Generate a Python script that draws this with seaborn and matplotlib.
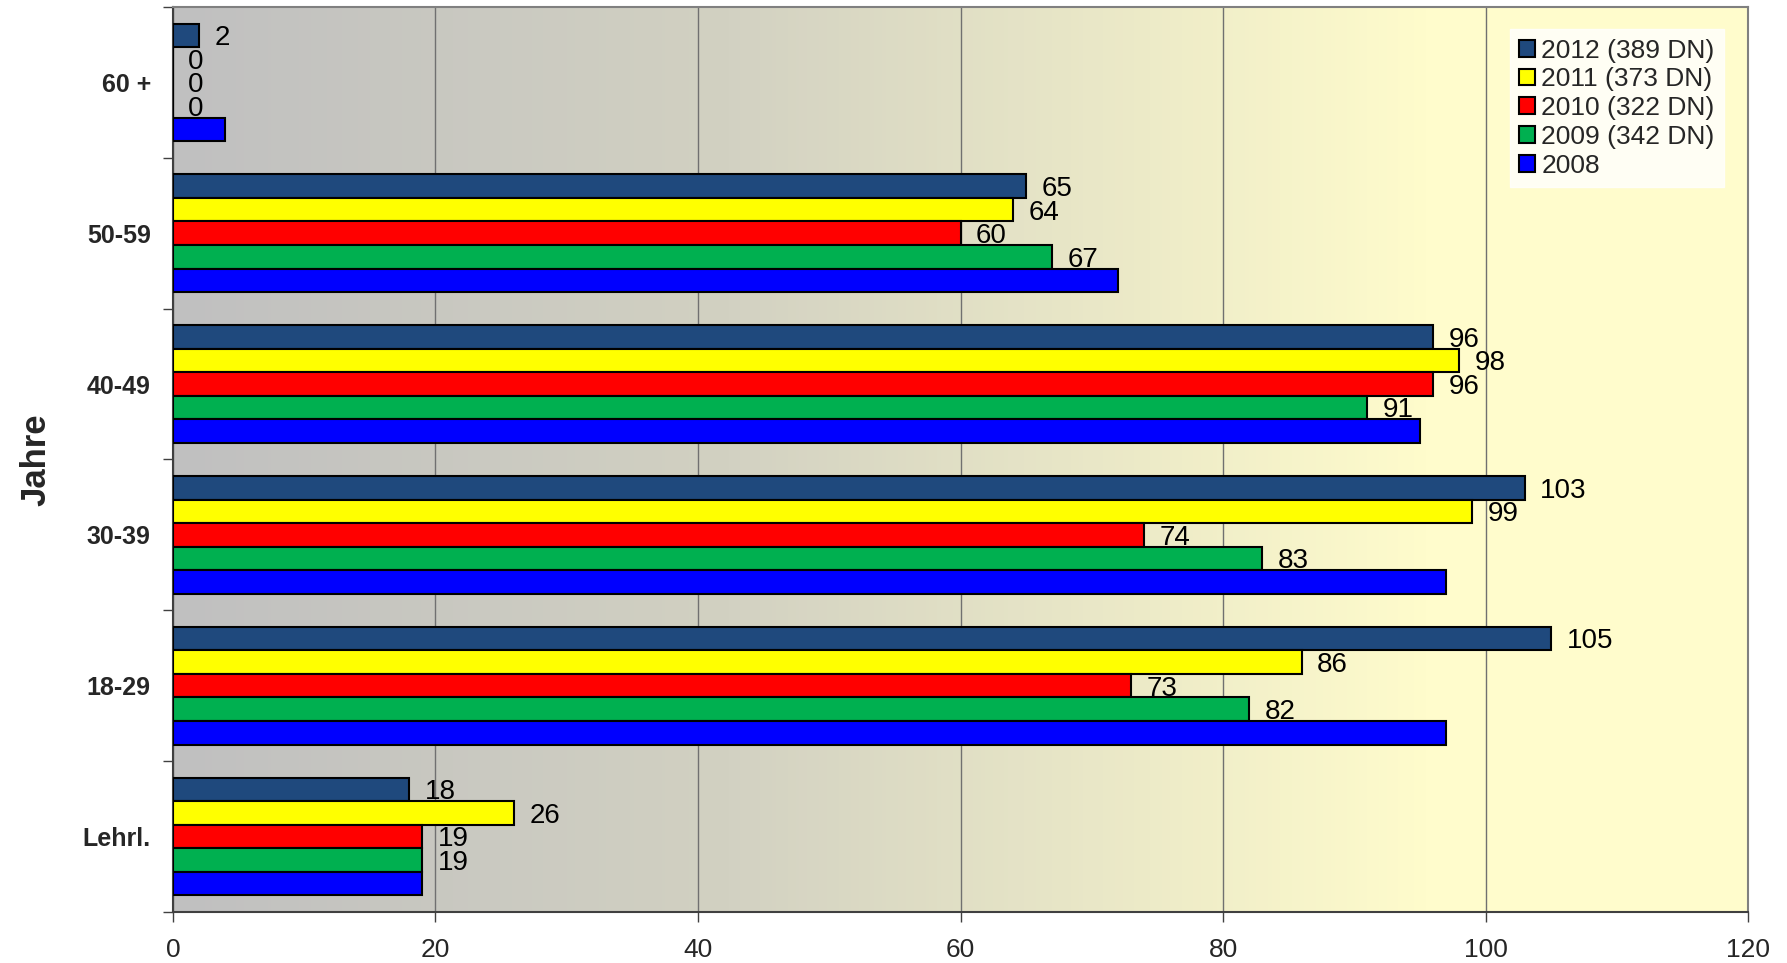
import numpy as np
import pandas as pd
import seaborn as sns
import matplotlib.pyplot as plt
from matplotlib.colors import LinearSegmentedColormap
from matplotlib.ticker import FixedLocator

# data
groups = ["60 +", "50-59", "40-49", "30-39", "18-29", "Lehrl."]
years = ["2012 (389 DN)", "2011 (373 DN)", "2010 (322 DN)", "2009 (342 DN)", "2008"]
v2012 = [2, 65, 96, 103, 105, 18]
v2011 = [0, 64, 98, 99, 86, 26]
v2010 = [0, 60, 96, 74, 73, 19]
v2009 = [0, 67, 91, 83, 82, 19]
v2008 = [4, 72, 95, 97, 97, 19]
colors = ["#1F497D", "#FFFF00", "#FF0000", "#00B050", "#0000FF"]
labelled = [True, True, True, True, False]

rows = []
for yr, vals in zip(years, [v2012, v2011, v2010, v2009, v2008]):
    for g, v in zip(groups, vals):
        rows.append({"Jahre": g, "Anzahl": v, "Jahr": yr})
df = pd.DataFrame(rows)

sns.set_style("white")
plt.rcParams["font.family"] = ["Liberation Sans", "DejaVu Sans"]

fig = plt.figure(figsize=(17.87, 9.63), dpi=100)
ax = fig.add_axes([0.0968, 0.053, 0.8814, 0.9397])

sns.barplot(data=df, x="Anzahl", y="Jahre", hue="Jahr", order=groups, hue_order=years,
            palette=colors, orient="h", width=0.78, edgecolor="black", linewidth=1.5,
            saturation=1, ax=ax, zorder=3)

ax.set_xlim(0, 120)
ax.set_ylim(5.5, -0.5)

# gradient background gray -> light yellow
cmap = LinearSegmentedColormap.from_list("bg", [(0, "#C0C0C0"), (0.35, "#D2D1C2"),
                                                (0.8, "#FFFCCC"), (1, "#FFFCCC")])
grad = np.linspace(0, 1, 400).reshape(1, -1)
ax.imshow(grad, cmap=cmap, aspect="auto", extent=[0, 120, 5.5, -0.5], zorder=0)

ax.set_xticks(range(0, 121, 20))
ax.xaxis.grid(True, color="#707070", linewidth=1.0, zorder=1)
ax.yaxis.grid(False)
ax.set_axisbelow(True)

# value labels
for cont, show in zip(ax.containers, labelled):
    if not show:
        continue
    for bar in cont:
        w = bar.get_width()
        yc = bar.get_y() + bar.get_height() / 2
        ax.annotate(f"{w:.0f}", (w, yc), xytext=(11, -2), textcoords="offset points",
                    ha="left", va="center", fontsize=20, color="black", zorder=5)

ax.tick_params(axis="y", which="major", length=0, pad=16, labelsize=18)
for t in ax.get_yticklabels():
    t.set_fontweight("bold")
ax.yaxis.set_minor_locator(FixedLocator(np.arange(-0.5, 6, 1)))
ax.tick_params(axis="y", which="minor", left=True, length=7, width=1, color="#404040")
ax.tick_params(axis="x", which="major", bottom=True, length=7, width=1, color="#404040",
               labelsize=19, pad=12)

ax.set_xlabel("")
ax.set_ylabel("Jahre", fontsize=25, fontweight="bold", labelpad=22)

for s in ax.spines.values():
    s.set_visible(True)
    s.set_color("#808080")
    s.set_linewidth(1.5)
ax.spines["left"].set_color("#404040")
ax.spines["bottom"].set_color("#404040")

leg = ax.legend(loc="upper right", bbox_to_anchor=(0.993, 0.99), fontsize=19,
                frameon=True, fancybox=False, handlelength=0.6, handleheight=0.6,
                handletextpad=0.25, labelspacing=0.18, borderpad=0.35, title=None)
leg.get_frame().set_facecolor("white")
leg.get_frame().set_edgecolor("white")
for h in leg.legend_handles:
    h.set_edgecolor("black")
    h.set_linewidth(1.5)

fig.savefig("out.png", dpi=100)
